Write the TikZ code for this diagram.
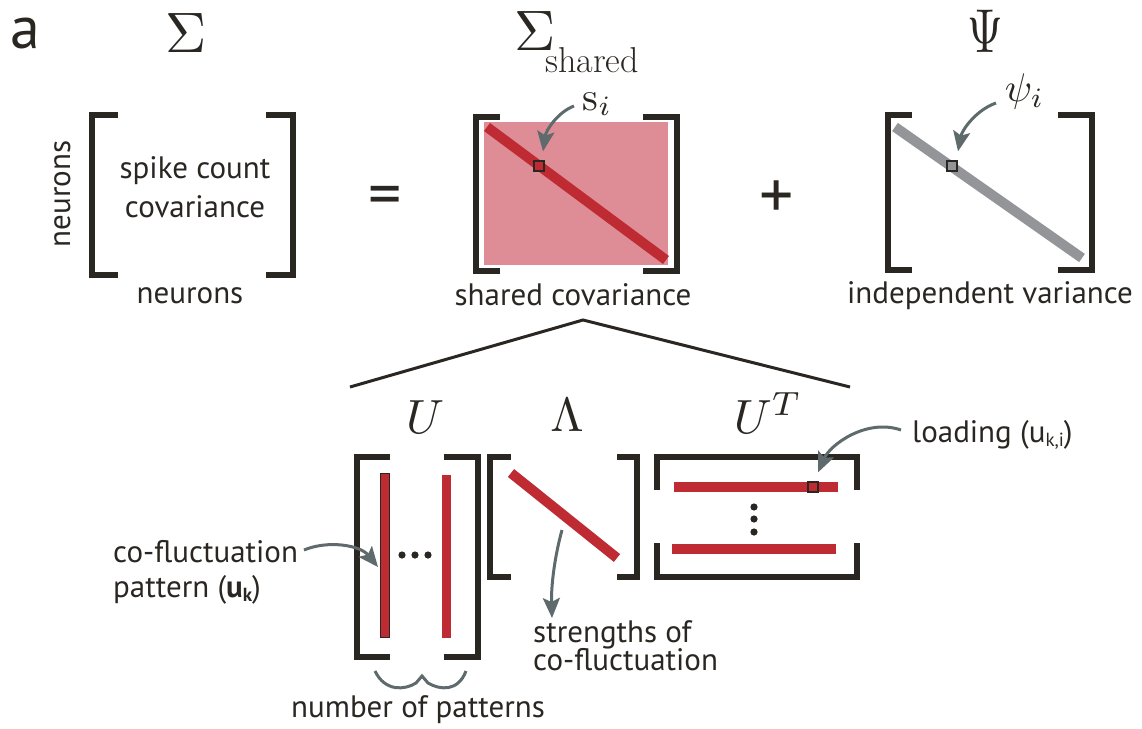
\documentclass[tikz,border=0pt]{standalone}
\usepackage{fontspec}
\newfontfamily\sans{PT Sans}
\usetikzlibrary{arrows.meta}
\definecolor{ink}{HTML}{2A2622}
\definecolor{myred}{HTML}{BF2B32}
\definecolor{mypink}{HTML}{DE8C96}
\definecolor{arrowgray}{HTML}{5E6A6C}
\definecolor{diaggray}{HTML}{939598}
\begin{document}
\begin{tikzpicture}[x=1pt,y=-1pt,
  brk/.style={draw=ink,line width=6pt,line cap=butt,line join=miter},
  lbl/.style={font=\sans\fontsize{31}{34}\selectfont,text=ink,inner sep=0pt},
  mth/.style={font=\fontsize{10}{10}\selectfont,text=ink,inner sep=0pt,scale=#1/10,transform shape},
  callout/.style={draw=arrowgray,line width=3pt,-{Stealth[length=20pt,width=17pt,inset=4pt]}},
  sq/.style={draw=ink,line width=1.3pt,minimum size=10pt,inner sep=0pt},
  redbar/.style={draw=myred,line width=10pt,line cap=butt},
  graybar/.style={draw=diaggray,line width=10pt,line cap=butt}]
\useasboundingbox (0,0) rectangle (1142,728);

% panel letter and headings
\node[lbl,font=\sans\fontsize{60}{60}\selectfont,anchor=base west] (panel) at (10,48) {a};
\node[mth=57,anchor=base] (sigma) at (186,52) {$\Sigma$};
\node[mth=57,anchor=base west] (sigshared) at (513,50) {$\Sigma$};
\node[font=\fontsize{36}{38}\selectfont,text=ink,inner sep=0pt,anchor=base west] (sharedsub) at (545,72) {shared};
\node[mth=62,xscale=0.74,anchor=base] (psi) at (985,52) {$\Psi$};

% left matrix
\draw[brk] (118,115) -- (92,115) -- (92,275) -- (118,275);
\draw[brk] (266,115) -- (293,115) -- (293,275) -- (266,275);
\node[lbl,anchor=base] (spike) at (195,178) {spike count};
\node[lbl,anchor=base] (cov) at (195,217) {covariance};
\node[lbl,anchor=base] (neurb) at (190,303) {neurons};
\node[lbl,anchor=base,rotate=90] (neurl) at (70,194) {neurons};

\node[lbl,font=\sans\fontsize{66}{66}\selectfont] (eq) at (385,201) {=};

% shared covariance matrix
\fill[mypink] (484,122) rectangle (668,265);
\draw[redbar] (487,127) -- (666,260);
\draw[brk] (500,117) -- (476,117) -- (476,271) -- (500,271);
\draw[brk] (643,117) -- (677,117) -- (677,271) -- (643,271);
\node[sq,fill=myred] (si) at (539,166) {};
\node[mth=40,anchor=base west] (silbl) at (582,110) {s$_i$};
\coordinate (sistart) at (574,106);
\draw[callout] (sistart) .. controls (558,112) and (546,130) .. ([xshift=4pt,yshift=9pt]si.north);
\node[lbl,anchor=base] (sharedcov) at (573,305) {shared covariance};

\node[lbl,font=\sans\fontsize{68}{68}\selectfont] (plus) at (777,200) {+};

% independent variance matrix
\draw[graybar] (895,127) -- (1082,258);
\draw[brk] (912,115) -- (888,115) -- (888,270) -- (912,270);
\draw[brk] (1058,115) -- (1092,115) -- (1092,270) -- (1058,270);
\node[sq,fill=diaggray] (psii) at (952,166) {};
\node[mth=40,anchor=base west] (psilbl) at (1004,101) {$\psi_i$};
\coordinate (psistart) at (996,103);
\draw[callout] (psistart) .. controls (976,110) and (962,130) .. ([xshift=6pt,yshift=9pt]psii.north);
\node[lbl,anchor=base] (indep) at (990,303) {independent variance};

% expansion lines
\coordinate (apex) at (583,320);
\coordinate (tl) at (350,387);
\coordinate (tr) at (850,387);
\draw[ink,line width=3pt,line join=miter] (tl) -- (apex) -- (tr);

% factor labels
\node[mth=48,anchor=base] (Ulbl) at (425,433) {$U$};
\node[mth=48,anchor=base] (Llbl) at (567,431) {$\Lambda$};
\node[mth=48,anchor=base west] (UTlbl) at (733,433) {$U^T$};

% U matrix
\draw[brk] (390,457) -- (357,457) -- (357,657) -- (390,657);
\draw[brk] (444,457) -- (478,457) -- (478,657) -- (444,657);
\draw[fill=myred,draw=ink,line width=1pt] (380,473) rectangle (389,637);
\fill[myred] (442,475) rectangle (451,638);
\foreach \x in {402,415,428} \fill[ink] (\x,555) circle (3.6pt);
\node[lbl,anchor=base west] (cofl) at (113,562) {co-fluctuation};
\node[lbl,anchor=base west] (patt) at (113,597) {pattern (\textbf{u}\raisebox{-4pt}{\fontsize{19}{20}\selectfont\bfseries k})};
\coordinate (coflstart) at (304,550);
\draw[callout] (coflstart) .. controls (328,540) and (360,545) .. (378,567);

% brace
\draw[arrowgray,line width=3pt,line join=miter] (375,671) .. controls (385,692) and (405,690) .. (416,683) -- (422,676) -- (428,683) .. controls (440,690) and (458,692) .. (466,671);
\node[lbl,anchor=base] (npat) at (418,717) {number of patterns};

% Lambda matrix
\draw[redbar] (511,473) -- (617,558);
\draw[brk] (511,457) -- (490,457) -- (490,577) -- (511,577);
\draw[brk] (617,457) -- (637,457) -- (637,577) -- (617,577);
\coordinate (strstart) at (562,530);
\draw[callout] (strstart) .. controls (555,555) and (551,585) .. (552,618);
\node[lbl,anchor=base west] (str1) at (533,642) {strengths of};
\node[lbl,anchor=base west] (str2) at (533,670) {co-fluctuation};

% U^T matrix
\draw[brk] (657,490) -- (657,457) -- (857,457) -- (857,490);
\draw[brk] (657,543) -- (657,577) -- (857,577) -- (857,543);
\draw[redbar] (674,487) -- (838,487);
\draw[redbar] (672,549) -- (836,549);
\node[sq,fill=myred] (uki) at (813,487) {};
\foreach \y in {507,519,532} \fill[ink] (754,\y) circle (3.6pt);
\node[lbl,anchor=base west] (load) at (912,442) {loading (u\raisebox{-4pt}{\fontsize{19}{20}\selectfont k,i})};
\coordinate (loadstart) at (901,430);
\draw[callout] (loadstart) .. controls (866,418) and (830,445) .. ([xshift=5pt,yshift=9pt]uki.north);
\end{tikzpicture}
\end{document}
